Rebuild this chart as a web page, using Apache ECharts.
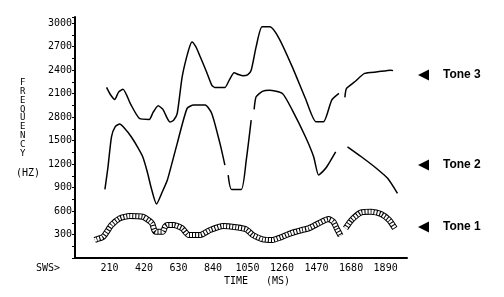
<!DOCTYPE html>
<html>
<head>
<meta charset="utf-8">
<script src="https://cdn.jsdelivr.net/npm/echarts@6/dist/echarts.min.js"></script>
<style>
html,body{margin:0;padding:0;background:#fff;}
#main{width:504px;height:297px;}
</style>
</head>
<body>
<div id="main"></div>
<script>
// time (ms) , frequency (hz) ; null = break in the trace
var tone3 = [[192,2180],[215,2090],[242,2027],[265,2120],[292,2158],[340,1960],[392,1784],[452,1771],[475,1860],[506,1945],[535,1900],[560,1790],[578,1737],[600,1760],[622,1848],[652,2315],[690,2650],[712,2762],[735,2700],[762,2571],[800,2380],[832,2209],[850,2180],[912,2180],[940,2280],[968,2366],[995,2345],[1022,2328],[1050,2340],[1072,2400],[1102,2698],[1138,2954],[1186,2954],[1242,2805],[1322,2443],[1402,2039],[1466,1741],[1512,1741],[1562,2018],[1606,2103],null,[1642,2052],[1652,2167],[1702,2252],[1762,2359],[1842,2379],[1922,2401],[1935,2395]];
var tone2 = [[182,877],[200,1150],[222,1549],[245,1680],[272,1711],[300,1660],[342,1549],[380,1420],[412,1294],[440,1100],[462,911],[496,690],[530,840],[562,996],[622,1465],[682,1912],[722,1954],[792,1954],[832,1848],[882,1465],[912,1188],null,[932,1060],[952,877],[1012,877],[1042,1251],[1072,1762],null,[1090,1900],[1102,2060],[1140,2130],[1182,2145],[1262,2103],[1322,1890],[1402,1549],[1452,1294],[1482,1060],[1510,1110],[1532,1166],[1586,1357],null,[1658,1421],[1742,1294],[1822,1166],[1902,1018],[1962,826]];
var tone1 = [[120,230],[132,240],[172,272],[222,421],[272,507],[332,536],[412,527],[452,476],[470,440],[482,358],[492,336],[535,336],[548,400],[562,421],[602,421],[652,379],[692,294],[762,294],[822,358],[902,409],[982,392],[1042,366],[1082,294],[1142,239],[1202,230],[1252,264],[1312,315],[1382,358],[1422,379],[1482,443],[1542,498],[1572,464],[1592,379],[1616,285],null,[1646,379],[1682,485],[1742,583],[1802,591],[1862,562],[1912,485],[1946,379]];

var yTickLabels = ['', '300', '600', '900', '1200', '1500', '2800', '2100', '2400', '2700', '3000'];
var xTickStep = 210;
var yTickStep = 300;
var toneNames = ['Tone 3', 'Tone 2', 'Tone 1'];
var toneLabelY = [75, 165, 227];
var yTitle = 'FREQUENCY';

function segments(arr){
    var out = [], cur = [];
    for(var i=0;i<arr.length;i++){
        if(arr[i] === null){
            if(cur.length) out.push(cur);
            cur = [];
        } else cur.push(arr[i]);
    }
    if(cur.length) out.push(cur);
    return out;
}

var series = [];
function addThin(arr){
    var segs = segments(arr);
    for(var i=0;i<segs.length;i++){
        series.push({type:'line', data:segs[i], symbol:'none', smooth:0.2, silent:true,
            lineStyle:{color:'#000', width:1.5}});
    }
}
function addBand(arr){
    var segs = segments(arr);
    for(var i=0;i<segs.length;i++){
        series.push({type:'line', data:segs[i], symbol:'none', smooth:0.2, silent:true, z:2,
            lineStyle:{color:'#000', width:6}});
        series.push({type:'line', data:segs[i], symbol:'none', smooth:0.2, silent:true, z:3,
            lineStyle:{color:'#fff', width:4, type:[2,1]}});
    }
}
addThin(tone3);
addThin(tone2);
addBand(tone1);

var graphics = [];
graphics.push({type:'text', left:20, top:78, style:{text:yTitle.split('').join('\n'), font:'9px "DejaVu Sans Mono"', lineHeight:8.9, fill:'#000', align:'center'}});
graphics.push({type:'text', x:28, y:173, style:{text:'(HZ)', font:'10px "DejaVu Sans Mono"', fill:'#000', align:'center', verticalAlign:'middle'}});
graphics.push({type:'text', x:48, y:268, style:{text:'SWS>', font:'10px "DejaVu Sans Mono"', fill:'#000', align:'center', verticalAlign:'middle'}});
graphics.push({type:'text', x:257, y:281, style:{text:'TIME   (MS)', font:'10px "DejaVu Sans Mono"', fill:'#000', align:'center', verticalAlign:'middle'}});
for(var t=0;t<toneNames.length;t++){
    var yy = toneLabelY[t];
    graphics.push({type:'polygon', shape:{points:[[418,yy],[429,yy-5.5],[429,yy+5.5]]}, style:{fill:'#000'}});
    graphics.push({type:'text', x:443, y:yy, style:{text:toneNames[t], font:'bold 12px "Liberation Sans"', fill:'#000', verticalAlign:'middle'}});
}

var myChart = echarts.init(document.getElementById('main'), null, {renderer:'canvas'});
myChart.setOption({
    animation:false,
    backgroundColor:'#fff',
    grid:{left:75, right:97, top:17, bottom:39},
    xAxis:{
        type:'value', min:0, max:2020, interval:xTickStep,
        axisLine:{show:true, lineStyle:{color:'#000', width:2}},
        axisTick:{show:false},
        splitLine:{show:false},
        axisLabel:{color:'#000', fontFamily:'DejaVu Sans Mono', fontSize:10, margin:5,
            formatter:function(v){ return (v>0 && v % xTickStep === 0) ? String(v) : ''; }}
    },
    yAxis:{
        type:'value', min:0, max:3080, interval:yTickStep,
        axisLine:{show:true, lineStyle:{color:'#000', width:2}},
        axisTick:{show:true, length:3, lineStyle:{color:'#000'}},
        minorTick:{show:true, splitNumber:2, length:3, lineStyle:{color:'#000'}},
        splitLine:{show:false},
        axisLabel:{color:'#000', fontFamily:'DejaVu Sans Mono', fontSize:10, margin:3,
            formatter:function(v){ return (v % yTickStep === 0) ? (yTickLabels[v / yTickStep] || '') : ''; }}
    },
    series:series,
    graphic:graphics
});
</script>
</body>
</html>
